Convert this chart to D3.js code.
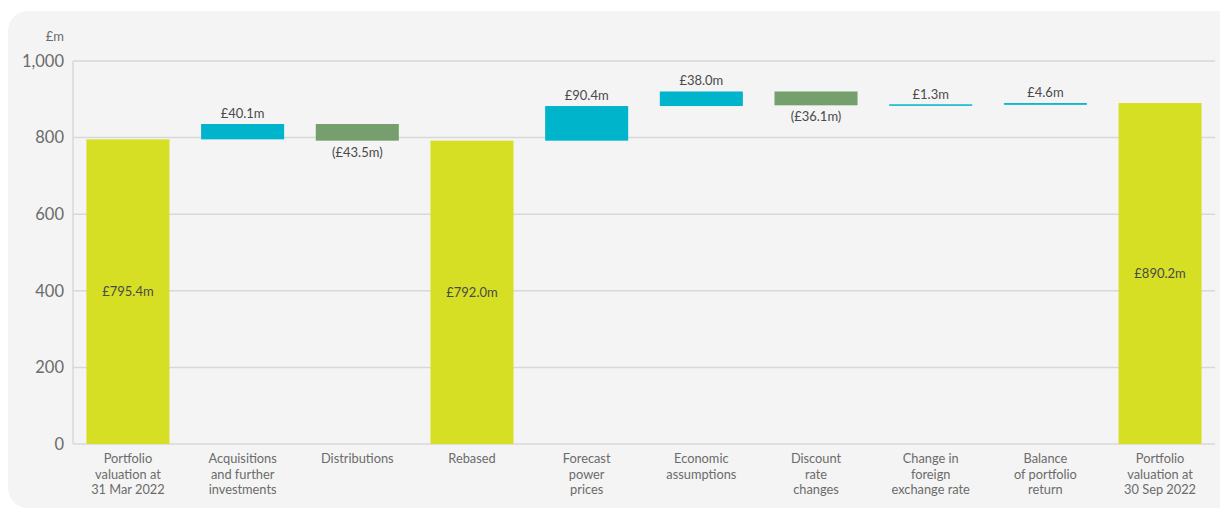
<!DOCTYPE html>
<html>
<head>
<meta charset="utf-8">
<script src="https://cdn.jsdelivr.net/npm/d3@7"></script>
<style>
  html, body { margin: 0; padding: 0; background: #ffffff; }
  svg { display: block; font-family: Lato, "Open Sans", sans-serif; }
</style>
</head>
<body>
<svg id="chart" width="1220" height="509"></svg>
<script>
// Portfolio valuation bridge, £m
const categories = [
  ["Portfolio", "valuation at", "31 Mar 2022"],
  ["Acquisitions", "and further", "investments"],
  ["Distributions"],
  ["Rebased"],
  ["Forecast", "power", "prices"],
  ["Economic", "assumptions"],
  ["Discount", "rate", "changes"],
  ["Change in", "foreign", "exchange rate"],
  ["Balance", "of portfolio", "return"],
  ["Portfolio", "valuation at", "30 Sep 2022"]
];
// "total" bars start at zero; "delta" bars float on the running total
const kinds  = ["total", "delta", "delta", "total", "delta", "delta", "delta", "delta", "delta", "total"];
const values = [795.4, 40.1, -43.5, 792.0, 90.4, 38.0, -36.1, 1.3, 4.6, 890.2];
const valueLabels = ["£795.4m", "£40.1m", "(£43.5m)", "£792.0m", "£90.4m", "£38.0m", "(£36.1m)", "£1.3m", "£4.6m", "£890.2m"];
const yTicks = [0, 200, 400, 600, 800, 1000];
const yUnit = "£m";

const colors = { total: "#d6df23", up: "#00b4cb", down: "#769f6e" };

const svg = d3.select("#chart");
const W = 1220;
const plot = { left: 73, right: 1215, top: 61, bottom: 444 };

// card background
svg.append("rect")
  .attr("x", 8).attr("y", 11)
  .attr("width", W - 8 + 20).attr("height", 497)
  .attr("rx", 20).attr("ry", 20)
  .attr("fill", "#f4f4f4");

const x = d3.scaleBand()
  .domain(d3.range(categories.length))
  .range([plot.left, plot.right])
  .paddingInner(0.276)
  .paddingOuter(0.117);

const y = d3.scaleLinear().domain([0, 1000]).range([plot.bottom, plot.top]);

// running totals for the floating bars
let running = 0;
const bars = values.map((v, i) => {
  let y0, y1;
  if (kinds[i] === "total") { y0 = 0; y1 = v; running = v; }
  else { y0 = running; y1 = running + v; running = y1; }
  return { i, v, kind: kinds[i], lo: Math.min(y0, y1), hi: Math.max(y0, y1), label: valueLabels[i] };
});

// gridlines
svg.append("g")
  .selectAll("line")
  .data(yTicks)
  .join("line")
  .attr("x1", plot.left).attr("x2", plot.right)
  .attr("y1", d => y(d)).attr("y2", d => y(d))
  .attr("stroke", "#d8d8d8").attr("stroke-width", 1.5);

// left axis line
svg.append("line")
  .attr("x1", plot.left).attr("x2", plot.left)
  .attr("y1", plot.top).attr("y2", plot.bottom)
  .attr("stroke", "#d8d8d8").attr("stroke-width", 1.5);

// y tick labels
const yAxis = d3.axisLeft(y).tickValues(yTicks).tickSize(0).tickPadding(9)
  .tickFormat(d3.format(","));
const gy = svg.append("g").attr("transform", `translate(${plot.left},0)`).call(yAxis);
gy.select(".domain").remove();
gy.selectAll("text")
  .attr("fill", "#6b6b6b")
  .style("font-size", "16.5px")
  .style("font-family", "Lato, sans-serif");

svg.append("text")
  .attr("x", plot.left - 9).attr("y", 41)
  .attr("text-anchor", "end")
  .attr("fill", "#6b6b6b")
  .style("font-size", "13px")
  .text(yUnit);

// bars
svg.append("g")
  .selectAll("rect")
  .data(bars)
  .join("rect")
  .attr("x", d => x(d.i))
  .attr("width", x.bandwidth())
  .attr("y", d => {
    const h = y(d.lo) - y(d.hi);
    return h < 1.5 ? y(d.hi) - (1.5 - h) / 2 : y(d.hi);
  })
  .attr("height", d => Math.max(1.5, y(d.lo) - y(d.hi)))
  .attr("fill", d => d.kind === "total" ? colors.total : (d.v >= 0 ? colors.up : colors.down));

// value labels
svg.append("g")
  .selectAll("text")
  .data(bars)
  .join("text")
  .attr("x", d => x(d.i) + x.bandwidth() / 2)
  .attr("y", d => {
    if (d.kind === "total") return y(d.hi / 2) + 4.5;
    if (d.v >= 0) return y(d.hi) - 6;
    return y(d.lo) + 16;
  })
  .attr("text-anchor", "middle")
  .attr("fill", "#4a4a4a")
  .style("font-size", "13px")
  .text(d => d.label);

// category labels, one text per line
const catGroups = svg.append("g")
  .selectAll("g")
  .data(categories)
  .join("g")
  .attr("transform", (d, i) => `translate(${x(i) + x.bandwidth() / 2},0)`);
catGroups.selectAll("text")
  .data(d => d)
  .join("text")
  .attr("x", 0)
  .attr("y", (d, j) => 463 + j * 15.5)
  .attr("text-anchor", "middle")
  .attr("fill", "#6b6b6b")
  .style("font-size", "12.8px")
  .text(d => d);
</script>
</body>
</html>
